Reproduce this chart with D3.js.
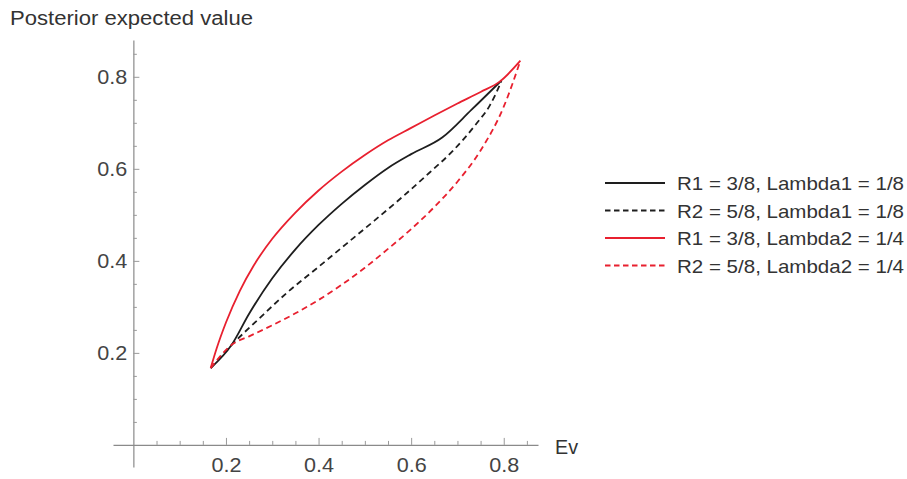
<!DOCTYPE html>
<html>
<head>
<meta charset="utf-8">
<script src="https://cdn.jsdelivr.net/npm/d3@7"></script>
<style>
  body { margin: 0; background: #fff; }
  text { font-family: "Liberation Sans", Arial, sans-serif; }
</style>
</head>
<body>
<script>
// series values (Ev -> posterior expected value)
var blackSolidX = [0.167, 0.212, 0.25, 0.30, 0.35, 0.40, 0.45, 0.50, 0.55, 0.60, 0.667, 0.73, 0.795];
var blackSolidY = [0.167, 0.217, 0.285, 0.362, 0.425, 0.478, 0.524, 0.565, 0.602, 0.632, 0.668, 0.728, 0.792];

var blackDashX = [0.167, 0.214, 0.27, 0.331, 0.40, 0.46, 0.52, 0.58, 0.64, 0.69, 0.74, 0.77, 0.795];
var blackDashY = [0.167, 0.219, 0.273, 0.330, 0.387, 0.437, 0.487, 0.538, 0.592, 0.639, 0.697, 0.738, 0.79];

var redSolidX = [0.167, 0.18, 0.20, 0.23, 0.26, 0.30, 0.35, 0.40, 0.45, 0.50, 0.55, 0.60, 0.65, 0.70, 0.75, 0.792, 0.836];
var redSolidY = [0.167, 0.21, 0.266, 0.335, 0.39, 0.448, 0.505, 0.553, 0.594, 0.630, 0.662, 0.689, 0.716, 0.742, 0.767, 0.79, 0.835];

var redDashX = [0.167, 0.214, 0.25, 0.30, 0.35, 0.40, 0.45, 0.50, 0.55, 0.60, 0.65, 0.70, 0.75, 0.80, 0.836];
var redDashY = [0.167, 0.219, 0.236, 0.26, 0.286, 0.315, 0.348, 0.385, 0.426, 0.469, 0.517, 0.572, 0.640, 0.735, 0.835];

var legendLabels = ["R1 = 3/8, Lambda1 = 1/8", "R2 = 5/8, Lambda1 = 1/8",
                    "R1 = 3/8, Lambda2 = 1/4", "R2 = 5/8, Lambda2 = 1/4"];
var majorTicks = [0.2, 0.4, 0.6, 0.8];
var minorTicks = [0.05, 0.1, 0.15, 0.25, 0.3, 0.35, 0.45, 0.5, 0.55, 0.65, 0.7, 0.75, 0.85];

var w = 907, h = 479;
var red = "#e8202f", black = "#1e1e1e";

var series = [
  {x: blackSolidX, y: blackSolidY, color: black, dash: null},
  {x: blackDashX, y: blackDashY, color: black, dash: "6,4"},
  {x: redSolidX, y: redSolidY, color: red, dash: null},
  {x: redDashX, y: redDashY, color: red, dash: "6,4"}
];

var svg = d3.select("body").append("svg")
  .attr("width", w)
  .attr("height", h);

var x = d3.scaleLinear().domain([-0.044, 0.874]).range([113, 538]);
var y = d3.scaleLinear().domain([-0.048, 0.88]).range([467, 40]);

// x axis (ticks point up, into the plot)
var gx = svg.append("g").attr("transform", "translate(0," + y(0) + ")");
gx.call(d3.axisBottom(x).tickValues(majorTicks).tickSizeInner(-7).tickSizeOuter(0)
  .tickPadding(13).tickFormat(d3.format(".1f")));
var gxm = svg.append("g").attr("transform", "translate(0," + y(0) + ")");
gxm.call(d3.axisBottom(x).tickValues(minorTicks).tickSizeInner(-4).tickSizeOuter(0).tickFormat(""));
gxm.select(".domain").remove();

// y axis (ticks point right)
var gy = svg.append("g").attr("transform", "translate(" + x(0) + ",0)");
gy.call(d3.axisLeft(y).tickValues(majorTicks).tickSizeInner(-6).tickSizeOuter(0)
  .tickPadding(6).tickFormat(d3.format(".1f")));
var gym = svg.append("g").attr("transform", "translate(" + x(0) + ",0)");
gym.call(d3.axisLeft(y).tickValues(minorTicks).tickSizeInner(-3.5).tickSizeOuter(0).tickFormat(""));
gym.select(".domain").remove();

svg.selectAll(".domain").attr("stroke", "#8a8a8a").attr("stroke-width", 1.2);
svg.selectAll(".tick line").attr("stroke", "#9a9a9a");
svg.selectAll(".tick text")
  .attr("font-family", "Liberation Sans, Arial, sans-serif")
  .attr("font-size", 19.5)
  .attr("fill", "#444")
  .attr("textLength", 30)
  .attr("lengthAdjust", "spacingAndGlyphs");

// curves
var line = d3.line()
  .x(function(d) { return x(d[0]); })
  .y(function(d) { return y(d[1]); })
  .curve(d3.curveMonotoneX);

series.forEach(function(s) {
  var pts = s.x.map(function(v, i) { return [v, s.y[i]]; });
  svg.append("path")
    .datum(pts)
    .attr("d", line)
    .attr("fill", "none")
    .attr("stroke", s.color)
    .attr("stroke-width", 1.8)
    .attr("stroke-dasharray", s.dash);
});

// labels
svg.append("text")
  .attr("x", 10).attr("y", 25)
  .attr("font-size", 19.5)
  .attr("fill", "#333")
  .attr("textLength", 243)
  .attr("lengthAdjust", "spacingAndGlyphs")
  .text("Posterior expected value");

svg.append("text")
  .attr("x", 555).attr("y", 454)
  .attr("font-size", 19.5)
  .attr("fill", "#333")
  .attr("textLength", 23)
  .attr("lengthAdjust", "spacingAndGlyphs")
  .text("Ev");

// legend
var legend = svg.append("g").attr("transform", "translate(605,183)");
series.forEach(function(s, i) {
  var row = legend.append("g").attr("transform", "translate(0," + (i * 27.5) + ")");
  row.append("line")
    .attr("x1", 0).attr("x2", 60)
    .attr("y1", 0).attr("y2", 0)
    .attr("stroke", s.color)
    .attr("stroke-width", 1.8)
    .attr("stroke-dasharray", s.dash ? "5.5,3.5" : null);
  row.append("text")
    .attr("x", 72).attr("y", 7)
    .attr("font-size", 19)
    .attr("fill", "#333")
    .attr("textLength", 227)
    .attr("lengthAdjust", "spacingAndGlyphs")
    .text(legendLabels[i]);
});
</script>
</body>
</html>
